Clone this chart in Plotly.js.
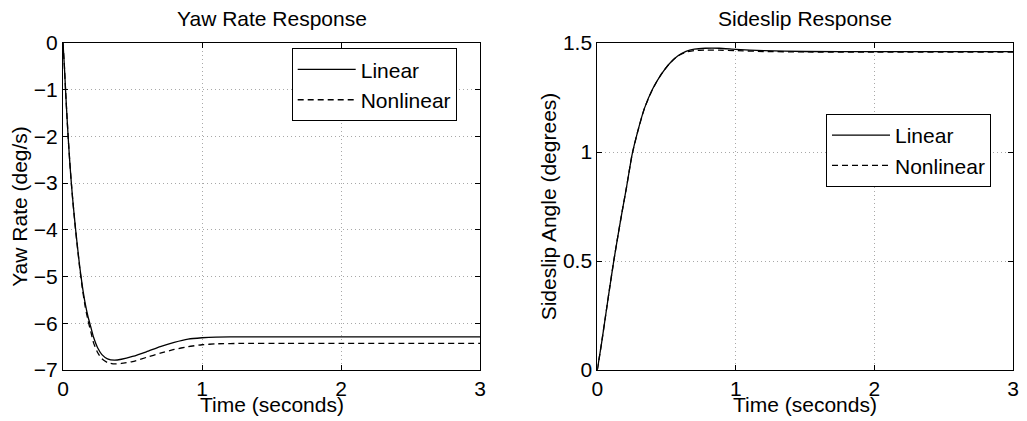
<!DOCTYPE html>
<html>
<head>
<meta charset="utf-8">
<script src="https://cdn.plot.ly/plotly-3.0.1.min.js"></script>
<style>html,body{margin:0;padding:0;background:#fff;}#chart{width:1027px;height:421px;}</style>
</head>
<body>
<div id="chart"></div>
<script>
// ---- Data ----
var yawTime = [0,0.01,0.02,0.03,0.04,0.05,0.06,0.07,0.08,0.09,0.10,0.12,0.14,0.16,0.18,0.20,0.22,0.25,0.28,0.32,0.37,0.42,0.5,0.6,0.7,0.8,0.9,1.0,1.1,1.3,1.6,2.0,2.5,3.0];
var yawLinear = [0,-0.5,-1.1,-1.65,-2.15,-2.6,-3.0,-3.35,-3.67,-3.97,-4.25,-4.78,-5.22,-5.58,-5.86,-6.08,-6.3,-6.53,-6.67,-6.76,-6.79,-6.77,-6.71,-6.61,-6.5,-6.41,-6.34,-6.31,-6.295,-6.29,-6.29,-6.29,-6.29,-6.29];
var yawNonlinear = [0,-0.5,-1.1,-1.65,-2.15,-2.6,-3.0,-3.36,-3.68,-3.99,-4.27,-4.81,-5.27,-5.65,-5.94,-6.18,-6.42,-6.63,-6.76,-6.84,-6.87,-6.86,-6.82,-6.73,-6.64,-6.56,-6.5,-6.46,-6.44,-6.43,-6.43,-6.43,-6.43,-6.43];

var slipTime = [0,0.03,0.06,0.09,0.12,0.15,0.18,0.21,0.25,0.29,0.34,0.40,0.46,0.52,0.58,0.64,0.70,0.78,0.88,1.0,1.2,1.5,2.0,3.0];
var slipLinear = [0,0.12,0.25,0.38,0.505,0.62,0.73,0.835,0.985,1.09,1.2,1.29,1.355,1.405,1.44,1.462,1.472,1.476,1.476,1.471,1.465,1.461,1.46,1.46];
var slipNonlinear = [0,0.12,0.25,0.38,0.505,0.62,0.73,0.835,0.985,1.09,1.2,1.29,1.355,1.405,1.44,1.458,1.465,1.467,1.467,1.465,1.461,1.459,1.458,1.458];

var seriesNames = ["Linear", "Nonlinear"];
var xTicks = [0, 1, 2, 3];
var yawTicks = [0, -1, -2, -3, -4, -5, -6, -7];
var slipTicks = [0, 0.5, 1, 1.5];
var titles = ["Yaw Rate Response", "Sideslip Response"];
var xTitle = "Time (seconds)";
var yTitles = ["Yaw Rate (deg/s)", "Sideslip Angle (degrees)"];

// ---- Traces ----
var FONT = "Liberation Sans, Arial, Helvetica, sans-serif";
var FS = 21;
function tr(x, y, name, dash, xa, ya, leg) {
  return {x: x, y: y, name: name, type: "scatter", mode: "lines",
    line: {color: "#000", width: 1.3, dash: dash, shape: "spline", smoothing: 0.5},
    xaxis: xa, yaxis: ya, legend: leg, hoverinfo: "skip"};
}
var data = [
  tr(yawTime, yawLinear, seriesNames[0], "solid", "x", "y", "legend"),
  tr(yawTime, yawNonlinear, seriesNames[1], "6px,4px", "x", "y", "legend"),
  tr(slipTime, slipLinear, seriesNames[0], "solid", "x2", "y2", "legend2"),
  tr(slipTime, slipNonlinear, seriesNames[1], "6px,4px", "x2", "y2", "legend2")
];

function axisBase(extra) {
  var a = {
    showline: true, linecolor: "#000", linewidth: 1, mirror: "allticks",
    ticks: "inside", ticklen: 5, tickcolor: "#000", tickwidth: 1,
    showgrid: true, gridcolor: "#a8a8a8", gridwidth: 1, griddash: "1px,3px",
    zeroline: false, tickfont: {family: FONT, size: FS, color: "#000"},
    fixedrange: true
  };
  for (var k in extra) a[k] = extra[k];
  return a;
}

var L = 63, R = 14, T = 43, B = 51, W = 1027, H = 421;
var pw = W - L - R, ph = H - T - B;
function px2x(p) { return (p - L) / pw; }
function px2y(p) { return (H - B - p) / ph; }

var d1 = [0, px2x(480)], d2 = [px2x(597.3), 1];

function legendBox(rightPx, topPx) {
  return {x: px2x(rightPx), xanchor: "right", y: px2y(topPx), yanchor: "top",
    bgcolor: "#fff", bordercolor: "#000", borderwidth: 1,
    font: {family: FONT, size: FS, color: "#000"}, tracegroupgap: 0, itemwidth: 58};
}
function ann(text, x, yPx) {
  return {text: text, xref: "paper", yref: "paper", x: x, y: px2y(yPx), xanchor: "center", yanchor: "middle",
    showarrow: false, font: {family: FONT, size: FS, color: "#000"}};
}

var layout = {
  width: W, height: H,
  margin: {l: L, r: R, t: T, b: B},
  paper_bgcolor: "#fff", plot_bgcolor: "#fff",
  font: {family: FONT, size: FS, color: "#000"},
  showlegend: true,
  xaxis: axisBase({domain: d1, range: [0, 3], tickvals: xTicks, ticklabelstandoff: 0, anchor: "y"}),
  yaxis: axisBase({domain: [0, 1], range: [-7, 0], tickvals: yawTicks, anchor: "x",
    title: {text: yTitles[0], font: {family: FONT, size: FS, color: "#000"}, standoff: 0}}),
  xaxis2: axisBase({domain: d2, range: [0, 3], tickvals: xTicks, ticklabelstandoff: 0, anchor: "y2"}),
  yaxis2: axisBase({domain: [0, 1], range: [0, 1.5], tickvals: slipTicks, anchor: "x2",
    title: {text: yTitles[1], font: {family: FONT, size: FS, color: "#000"}, standoff: 0}}),
  legend: legendBox(456.7, 48.3),
  legend2: legendBox(991, 114),
  annotations: [
    ann(titles[0], (d1[0] + d1[1]) / 2, 18),
    ann(titles[1], (d2[0] + d2[1]) / 2, 18),
    ann(xTitle, (d1[0] + d1[1]) / 2, 404),
    ann(xTitle, (d2[0] + d2[1]) / 2, 404)
  ]
};

Plotly.newPlot("chart", data, layout, {displayModeBar: false, staticPlot: true});
</script>
</body>
</html>
